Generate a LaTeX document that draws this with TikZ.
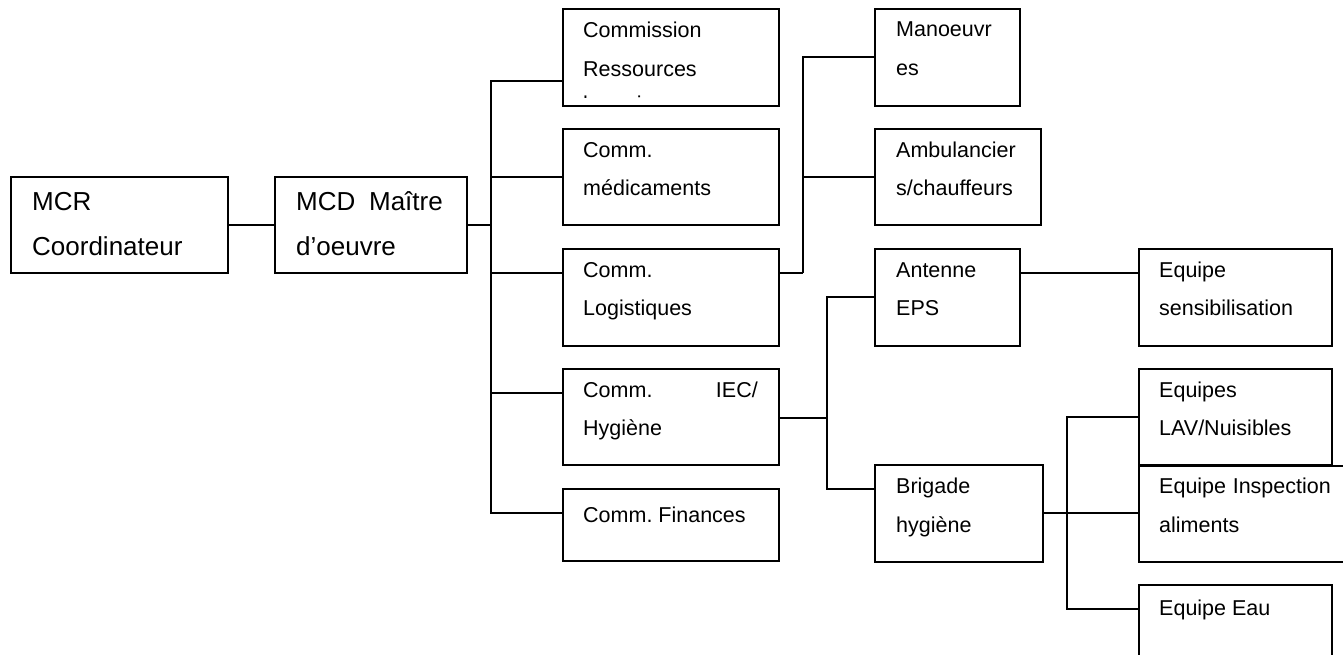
\documentclass[tikz,border=0pt]{standalone}
\usepackage{fontspec}
\setmainfont{Liberation Sans}
\usetikzlibrary{calc}
\newcommand{\smallfs}{\fontsize{21.5pt}{38pt}\selectfont}
\newcommand{\bigfs}{\fontsize{26pt}{45pt}\selectfont}
\tikzset{
  box/.style={draw, line width=1.4pt, anchor=north west, inner sep=0pt, outer sep=0pt},
  txt/.style={font=\smallfs, anchor=base west, inner sep=0pt},
  txtr/.style={font=\smallfs, anchor=base east, inner sep=0pt},
  bigtxt/.style={font=\bigfs, anchor=base west, inner sep=0pt},
  bigtxtr/.style={font=\bigfs, anchor=base east, inner sep=0pt},
  wire/.style={line width=1.4pt}
}
\begin{document}
\begin{tikzpicture}[x=1pt,y=-1pt]
\useasboundingbox (0,0) rectangle (1343,654);
\clip (0,0) rectangle (1343,654);
\fill[white] (0,0) rectangle (1343,654);

% boxes
\node[box, minimum width=217pt, minimum height=96pt] (mcr) at (11,177) {};
\node[box, minimum width=192pt, minimum height=96pt] (mcd) at (275,177) {};
\node[box, minimum width=216pt, minimum height=97pt] (com) at (563,9) {};
\node[box, minimum width=216pt, minimum height=96pt] (med) at (563,129) {};
\node[box, minimum width=216pt, minimum height=97pt] (log) at (563,249) {};
\node[box, minimum width=216pt, minimum height=96pt] (iec) at (563,369) {};
\node[box, minimum width=216pt, minimum height=72pt] (fin) at (563,489) {};
\node[box, minimum width=145pt, minimum height=97pt] (man) at (875,9) {};
\node[box, minimum width=166pt, minimum height=96pt] (amb) at (875,129) {};
\node[box, minimum width=145pt, minimum height=97pt] (ant) at (875,249) {};
\node[box, minimum width=168pt, minimum height=97pt] (bri) at (875,465) {};
\node[box, minimum width=193pt, minimum height=97pt] (sen) at (1139,249) {};
\node[box, minimum width=193pt, minimum height=96pt] (lav) at (1139,369) {};
\node[box, minimum width=230pt, minimum height=96pt] (ins) at (1139,466) {};
\node[box, minimum width=193pt, minimum height=110pt] (eau) at (1139,585) {};

% texts
\node[bigtxt] (t1) at (32,210) {MCR};
\node[bigtxt] (t2) at (32,255) {Coordinateur};
\node[bigtxt] (t3) at (296,210) {MCD};
\node[bigtxtr] (t4) at (443,210) {Maître};
\node[bigtxt] (t5) at (296,255) {d’oeuvre};

\node[txt] (c1) at (583,37) {Commission};
\node[txt] (c2) at (583,76) {Ressources};
\begin{scope}
  \clip ($(com.north west)+(1,1)$) rectangle (778,97.5);
  \node[txt] (c3) at (583,111) {humaines};
\end{scope}
\node[txt] (m1) at (583,157) {Comm.};
\node[txt] (m2) at (583,195) {médicaments};
\node[txt] (l1) at (583,277) {Comm.};
\node[txt] (l2) at (583,315) {Logistiques};
\node[txt] (i1) at (583,397) {Comm.};
\node[txtr] (i2) at (758,397) {IEC/};
\node[txt] (i3) at (583,435) {Hygiène};
\node[txt] (f1) at (583,522) {Comm.\ Finances};

\node[txt] (n1) at (896,36) {Manoeuvr};
\node[txt] (n2) at (896,75) {es};
\node[txt] (a1) at (896,157) {Ambulancier};
\node[txt] (a2) at (896,195) {s/chauffeurs};
\node[txt] (e1) at (896,277) {Antenne};
\node[txt] (e2) at (896,315) {EPS};
\node[txt] (b1) at (896,493) {Brigade};
\node[txt] (b2) at (896,532) {hygiène};

\node[txt] (s1) at (1159,277) {Equipe};
\node[txt] (s2) at (1159,315) {sensibilisation};
\node[txt] (v1) at (1159,397) {Equipes};
\node[txt] (v2) at (1159,435) {LAV/Nuisibles};
\node[txt] (p1) at (1159,493) {Equipe};
\node[txtr] (p2) at (1331,493) {Inspection};
\node[txt] (p3) at (1159,532) {aliments};
\node[txt] (w1) at (1159,615) {Equipe Eau};

% junctions
\coordinate (tr) at (491,225);
\coordinate (lg) at (803,273);
\coordinate (ij) at (827,418);
\coordinate (bj) at (1067,513);

% connectors
\draw[wire] (mcr.east) -- (mcd.west);
\draw[wire] (mcd.east) -- (tr);
\draw[wire] (tr) |- ($(com.north west)+(0,72)$);
\draw[wire] (tr) |- ($(med.north west)+(0,48)$);
\draw[wire] (tr) |- ($(log.north west)+(0,24)$);
\draw[wire] (tr) |- ($(iec.north west)+(0,24)$);
\draw[wire] (tr) |- ($(fin.north west)+(0,24)$);

\draw[wire] ($(log.north east)+(0,24)$) -- (lg);
\draw[wire] (lg) |- ($(man.north west)+(0,48)$);
\draw[wire] (lg) |- ($(amb.north west)+(0,48)$);

\draw[wire] ($(iec.north east)+(0,49)$) -- (ij);
\draw[wire] (ij) |- ($(ant.north west)+(0,48)$);
\draw[wire] (ij) |- ($(bri.north west)+(0,24)$);

\draw[wire] ($(ant.north east)+(0,24)$) -- ($(sen.north west)+(0,24)$);

\draw[wire] ($(bri.north east)+(0,48)$) -- (bj);
\draw[wire] (bj) |- ($(lav.north west)+(0,48)$);
\draw[wire] (bj) -- ($(ins.north west)+(0,47)$);
\draw[wire] (bj) |- ($(eau.north west)+(0,24)$);
\end{tikzpicture}
\end{document}
